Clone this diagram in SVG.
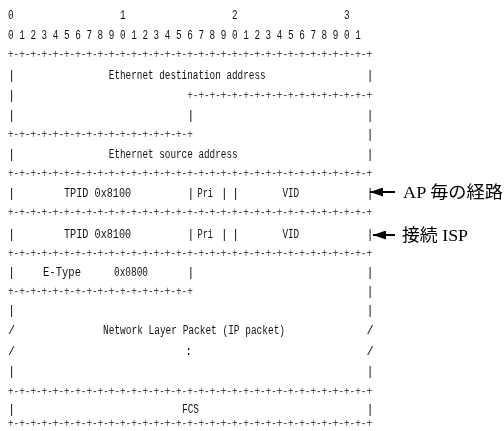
<svg xmlns="http://www.w3.org/2000/svg" width="504" height="431" viewBox="0 0 504 431" xml:space="preserve">
<style>
text{font-family:"Liberation Mono","DejaVu Sans Mono",monospace;font-size:12px;fill:#111}
.pl{fill:#444}
.lbl{font-family:"Liberation Serif","Noto Sans CJK JP",serif;font-size:17px;fill:#000}
.ar{stroke:#000;stroke-width:2;fill:none}
</style>
<defs>
<marker id="ah" markerUnits="userSpaceOnUse" viewBox="0 0 13 9" refX="13" refY="4.5" markerWidth="13" markerHeight="9" orient="auto"><path d="M0,0 L13,4.5 L0,9 z" fill="#000"/></marker>
<filter id="gray" x="0" y="0" width="504" height="431" filterUnits="userSpaceOnUse"><feOffset dx="0" dy="0"/></filter>
</defs>
<rect width="504" height="431" fill="#fff"/>
<g filter="url(#gray)">
<g id="ruler">
<text x="8" y="19" textLength="5.6" lengthAdjust="spacingAndGlyphs">0</text>
<text x="120" y="19" textLength="5.6" lengthAdjust="spacingAndGlyphs">1</text>
<text x="232" y="19" textLength="5.6" lengthAdjust="spacingAndGlyphs">2</text>
<text x="344" y="19" textLength="5.6" lengthAdjust="spacingAndGlyphs">3</text>
<text x="8" y="39" textLength="352.8" lengthAdjust="spacingAndGlyphs">0 1 2 3 4 5 6 7 8 9 0 1 2 3 4 5 6 7 8 9 0 1 2 3 4 5 6 7 8 9 0 1</text>
</g>
<g id="borders">
<text class="pl" x="8" y="58" textLength="364" lengthAdjust="spacingAndGlyphs">+-+-+-+-+-+-+-+-+-+-+-+-+-+-+-+-+-+-+-+-+-+-+-+-+-+-+-+-+-+-+-+-+</text>
<text class="pl" x="187.2" y="99" textLength="184.8" lengthAdjust="spacingAndGlyphs">+-+-+-+-+-+-+-+-+-+-+-+-+-+-+-+-+</text>
<text class="pl" x="8" y="138" textLength="184.8" lengthAdjust="spacingAndGlyphs">+-+-+-+-+-+-+-+-+-+-+-+-+-+-+-+-+</text>
<text class="pl" x="8" y="177" textLength="364" lengthAdjust="spacingAndGlyphs">+-+-+-+-+-+-+-+-+-+-+-+-+-+-+-+-+-+-+-+-+-+-+-+-+-+-+-+-+-+-+-+-+</text>
<text class="pl" x="8" y="216" textLength="364" lengthAdjust="spacingAndGlyphs">+-+-+-+-+-+-+-+-+-+-+-+-+-+-+-+-+-+-+-+-+-+-+-+-+-+-+-+-+-+-+-+-+</text>
<text class="pl" x="8" y="257" textLength="364" lengthAdjust="spacingAndGlyphs">+-+-+-+-+-+-+-+-+-+-+-+-+-+-+-+-+-+-+-+-+-+-+-+-+-+-+-+-+-+-+-+-+</text>
<text class="pl" x="8" y="295" textLength="184.8" lengthAdjust="spacingAndGlyphs">+-+-+-+-+-+-+-+-+-+-+-+-+-+-+-+-+</text>
<text class="pl" x="8" y="395" textLength="364" lengthAdjust="spacingAndGlyphs">+-+-+-+-+-+-+-+-+-+-+-+-+-+-+-+-+-+-+-+-+-+-+-+-+-+-+-+-+-+-+-+-+</text>
<text class="pl" x="8" y="427" textLength="364" lengthAdjust="spacingAndGlyphs">+-+-+-+-+-+-+-+-+-+-+-+-+-+-+-+-+-+-+-+-+-+-+-+-+-+-+-+-+-+-+-+-+</text>
</g>
<g id="dest-addr">
<text x="8" y="79">|</text><text x="108.8" y="79" textLength="156.8" lengthAdjust="spacingAndGlyphs">Ethernet destination address</text><text x="366.4" y="79">|</text>
<text x="8" y="99">|</text>
<text x="8" y="119">|</text><text x="187.2" y="119" fill="#666">|</text><text x="366.4" y="119">|</text>
<text x="366.4" y="138">|</text>
</g>
<g id="src-addr">
<text x="8" y="158">|</text><text x="108.8" y="158" textLength="128.8" lengthAdjust="spacingAndGlyphs">Ethernet source address</text><text x="366.4" y="158">|</text>
</g>
<g id="tag1">
<text x="8" y="197">|</text><text x="64" y="197" textLength="67.2" lengthAdjust="spacingAndGlyphs">TPID  0x8100</text>
<text x="187.2" y="197">|</text><text x="197.5" y="197" textLength="15.5" lengthAdjust="spacingAndGlyphs">Pri</text><text x="220.8" y="197">|</text><text x="232" y="197">|</text>
<text x="282.4" y="197" textLength="16.8" lengthAdjust="spacingAndGlyphs">VID</text><text x="366.4" y="197">|</text>
</g>
<g id="tag2">
<text x="8" y="238">|</text><text x="64" y="238" textLength="67.2" lengthAdjust="spacingAndGlyphs">TPID  0x8100</text>
<text x="187.2" y="238">|</text><text x="197.5" y="238" textLength="15.5" lengthAdjust="spacingAndGlyphs">Pri</text><text x="220.8" y="238">|</text><text x="232" y="238">|</text>
<text x="282.4" y="238" textLength="16.8" lengthAdjust="spacingAndGlyphs">VID</text><text x="366.4" y="238">|</text>
</g>
<g id="etype">
<text x="8" y="276">|</text><text x="43" y="276" textLength="38" lengthAdjust="spacingAndGlyphs">E-Type</text><text x="114" y="276" textLength="34" lengthAdjust="spacingAndGlyphs">0x0800</text><text x="187.2" y="276">|</text><text x="366.4" y="276">|</text>
<text x="366.4" y="295">|</text>
</g>
<g id="payload">
<text x="8" y="314">|</text><text x="366.4" y="314">|</text>
<text x="8" y="334">/</text><text x="103" y="334" textLength="182" lengthAdjust="spacingAndGlyphs">Network Layer Packet (IP packet)</text><text x="366.4" y="334">/</text>
<text x="8" y="355">/</text><text x="185" y="355" fill="#999">:</text><text x="366.4" y="355">/</text>
<text x="8" y="375">|</text><text x="366.4" y="375">|</text>
</g>
<g id="fcs">
<text x="8" y="413">|</text><text x="182" y="413" textLength="17" lengthAdjust="spacingAndGlyphs">FCS</text><text x="366.4" y="413">|</text>
</g>
<g id="connectors">
<line class="ar" x1="395" y1="192" x2="370" y2="192" marker-end="url(#ah)"/>
<line class="ar" x1="395" y1="235" x2="373" y2="235" marker-end="url(#ah)"/>
</g>
<g id="labels">
<text class="lbl" x="403" y="198" textLength="100" lengthAdjust="spacingAndGlyphs">AP 毎の経路</text>
<text class="lbl" x="402" y="241" textLength="66" lengthAdjust="spacingAndGlyphs">接続 ISP</text>
</g>
</g>
</svg>
